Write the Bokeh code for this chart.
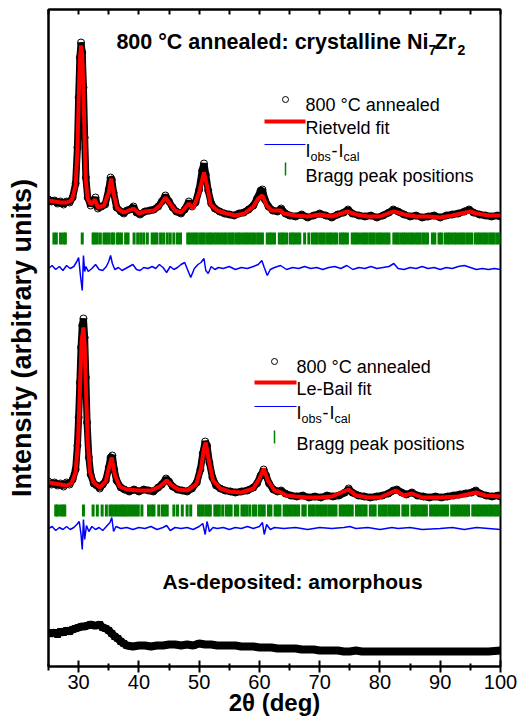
from bokeh.plotting import figure
from bokeh.models import Range1d, LinearAxis, FixedTicker
from bokeh.core.properties import value
from bokeh.embed import file_html
from bokeh.resources import INLINE

# ---------------- data (intensity in arbitrary units) ----------------
XTICKS = [30, 40, 50, 60, 70, 80, 90, 100]
XMINOR = [25, 35, 45, 55, 65, 75, 85, 95]

# Top pattern: Rietveld refinement
top_obs_x = [25.0, 25.5, 26.0, 26.5, 27.0, 27.5, 28.0, 28.5, 29.0, 29.5, 29.8, 30.0, 30.2, 30.4, 30.6, 30.8, 31.0, 31.2, 31.5,
             32.0, 32.5, 32.8, 33.2, 33.8, 34.4, 35.0, 35.3, 35.5, 35.8, 36.3, 37.0, 37.5, 38.0, 38.5, 39.1, 39.6, 40.2, 41.0,
             41.8, 42.5, 43.2, 43.8, 44.4, 45.0, 45.6, 46.2, 47.0, 47.6, 48.3, 48.8, 49.4, 50.0, 50.5, 50.8, 51.1, 51.5, 52.0,
             52.6, 53.4, 54.2, 55.0, 55.8, 56.6, 57.4, 58.2, 59.0, 59.6, 60.2, 60.5, 60.9, 61.5, 62.2, 63.0, 63.6, 64.3, 65.0,
             66.0, 67.0, 68.0, 69.0, 70.0, 71.0, 72.0, 73.0, 74.0, 74.7, 75.4, 76.5, 77.5, 78.5, 79.5, 80.5, 81.5, 82.2, 83.0,
             84.0, 85.0, 86.0, 87.0, 88.0, 89.0, 90.0, 91.0, 92.0, 93.0, 94.0, 94.8, 95.5, 96.5, 97.5, 98.5, 99.5, 100.0]
top_obs_y = [468, 466, 467, 464, 466, 463, 466, 465, 470, 484, 520, 570, 610, 625, 615, 580, 530, 490, 470,
             462, 466, 470, 459, 461, 463, 478, 490, 488, 475, 460, 456, 454, 457, 458, 461, 455, 453, 456,
             457, 458, 461, 466, 472, 466, 460, 456, 454, 458, 466, 461, 465, 478, 497, 504, 493, 477, 464,
             459, 456, 454, 453, 452, 454, 455, 458, 462, 469, 477, 478, 468, 461, 457, 456, 459, 454, 452,
             451, 453, 450, 452, 454, 452, 450, 453, 455, 458, 454, 452, 451, 452, 450, 452, 455, 458, 456,
             453, 451, 452, 450, 451, 452, 450, 452, 453, 454, 456, 458, 455, 453, 452, 451, 452, 451]

top_cal_x = [25.0, 26.0, 27.0, 28.0, 28.8, 29.0, 29.5, 29.8, 30.0, 30.2, 30.4, 30.6, 30.8, 31.0, 31.2, 31.5, 32.0, 32.7,
             33.2, 34.2, 35.0, 35.4, 35.8, 36.4, 37.5, 39.1, 40.0, 41.0, 42.5, 43.5, 44.4, 45.0, 46.0, 47.0, 48.3, 49.0,
             50.0, 50.8, 51.3, 51.9, 53.0, 54.5, 56.0, 57.5, 59.0, 59.8, 60.5, 61.2, 62.0, 63.5, 64.0, 66.0, 68.0, 70.0,
             72.0, 74.6, 76.0, 78.0, 80.0, 82.2, 83.0, 84.0, 86.0, 88.0, 90.0, 92.0, 95.0, 96.0, 98.0, 100.0]
top_cal_y = [467, 466, 465, 465, 467, 470, 482, 517, 567, 607, 622, 612, 577, 527, 487, 469, 463, 468,
             460, 462, 475, 489, 474, 459, 455, 459, 454, 456, 457, 462, 470, 465, 457, 455, 464, 459,
             475, 495, 482, 463, 457, 454, 452, 454, 461, 469, 472, 462, 457, 457, 454, 452, 451, 453,
             451, 456, 453, 451, 451, 456, 455, 453, 451, 451, 450, 452, 456, 454, 452, 452]

top_dif_x = [25.0, 25.6, 26.2, 26.8, 27.4, 28.0, 28.6, 29.2, 29.7, 30.0, 30.3, 30.6, 30.8, 31.0, 31.2, 31.6, 32.2, 32.8,
             33.4, 34.0, 34.6, 35.0, 35.3, 35.6, 36.0, 36.6, 37.2, 37.8, 38.4, 39.0, 39.6, 40.2, 40.8, 41.5, 42.2, 42.8,
             43.4, 44.0, 44.6, 45.2, 45.8, 46.4, 47.0, 47.6, 48.2, 48.6, 49.2, 49.8, 50.3, 50.8, 51.1, 51.5, 52.0, 52.6,
             53.2, 54.0, 55.0, 56.0, 57.0, 58.0, 59.0, 59.8, 60.4, 60.8, 61.3, 61.8, 62.5, 63.5, 64.5, 65.5, 66.5, 67.5,
             68.5, 69.5, 70.5, 71.5, 72.5, 73.5, 74.5, 75.5, 76.5, 77.5, 78.5, 79.5, 80.5, 81.5, 82.3, 83.0, 84.0, 85.0,
             86.0, 87.0, 88.0, 89.0, 90.0, 91.0, 92.0, 93.0, 94.0, 95.0, 96.0, 97.0, 98.0, 99.0, 100.0]
top_dif_y = [399, 402, 398, 401, 397, 402, 399, 401, 406, 410, 392, 377, 412, 396, 401, 396, 399, 403,
             398, 397, 401, 406, 412, 404, 398, 400, 397, 399, 401, 403, 398, 397, 400, 399, 401, 399,
             403, 400, 395, 401, 398, 400, 403, 405, 396, 390, 399, 403, 405, 409, 397, 394, 401, 398,
             400, 399, 401, 398, 400, 399, 401, 403, 407, 400, 392, 398, 400, 402, 398, 400, 399, 401,
             399, 400, 398, 400, 401, 399, 402, 398, 400, 399, 401, 399, 400, 401, 404, 399, 398, 400,
             399, 401, 399, 400, 398, 400, 399, 401, 402, 400, 398, 399, 398, 399, 398]

top_bragg = [25.9, 26.3, 27.0, 27.5, 27.8, 30.6, 32.4, 32.7, 33.1, 33.6, 34.2, 34.6, 35.0, 35.5, 35.8, 36.4, 36.7, 37.1,
             37.8, 38.2, 39.2, 39.8, 40.3, 40.8, 41.4, 42.2, 42.6, 43.0, 43.6, 44.1, 44.7, 45.2, 45.8, 46.4, 46.9,
             48.1, 48.45, 48.9, 49.3, 49.65, 50.1, 50.5, 50.85, 51.3, 51.7, 52.05, 52.5, 52.9, 53.25, 53.7, 54.1, 54.45,
             54.9, 55.3, 55.65, 56.1, 56.5, 56.85, 57.3, 57.7, 58.05, 58.5, 58.9, 59.25, 59.7, 60.1, 60.5, 61.3, 61.7,
             62.05, 62.5, 63.3, 63.7, 64.05, 64.5, 65.1, 65.5, 65.85, 66.3, 66.7, 67.5, 68.2, 68.8, 69.2, 69.55, 70.0,
             70.4, 70.75, 71.2, 71.6, 71.95, 72.4, 72.8, 73.4, 73.8, 74.15, 74.6, 75.4, 75.8, 76.15, 76.6, 77.1, 77.5,
             77.85, 78.3, 78.7, 79.05, 79.5, 79.9, 80.25, 80.7, 81.1, 81.5, 82.3, 82.7, 83.05, 83.5, 83.9, 84.25, 84.7,
             85.1, 85.45, 85.9, 86.3, 86.65, 87.1, 87.5, 87.9, 88.7, 89.1, 89.8, 90.2, 90.8, 91.2, 91.55, 92.0, 92.4,
             92.75, 93.2, 93.6, 93.95, 94.4, 94.8, 95.2, 95.8, 96.2, 96.55, 97.0, 97.4, 97.75, 98.2, 98.6, 98.95, 99.4,
             99.8]

# Middle pattern: Le-Bail fit
bot_obs_x = [25.0, 25.5, 26.0, 26.5, 27.0, 27.5, 28.0, 28.5, 29.0, 29.5, 29.8, 30.0, 30.2, 30.4, 30.6, 30.8, 31.0, 31.2,
             31.4, 31.7, 32.0, 32.5, 33.0, 33.5, 34.0, 34.5, 35.0, 35.3, 35.6, 35.9, 36.3, 37.0, 37.6, 38.4, 39.2, 40.0,
             40.8, 41.6, 42.4, 43.2, 43.8, 44.5, 45.0, 45.6, 46.4, 47.2, 48.0, 48.8, 49.6, 50.2, 50.6, 51.0, 51.3, 51.7,
             52.2, 52.8, 53.5, 54.3, 55.2, 56.0, 57.0, 58.0, 59.0, 59.6, 60.2, 60.7, 61.1, 61.6, 62.3, 63.0, 63.6, 64.3,
             65.2, 66.2, 67.2, 68.2, 69.2, 70.2, 71.2, 72.2, 73.2, 74.2, 74.8, 75.4, 76.4, 77.4, 78.4, 79.4, 80.4, 81.4,
             82.2, 82.8, 83.6, 84.4, 85.3, 86.2, 87.2, 88.2, 89.2, 90.2, 91.2, 92.2, 93.2, 94.2, 95.2, 95.9, 96.6, 97.6,
             98.6, 99.6, 100.0]
bot_obs_y = [186, 183, 185, 182, 184, 181, 185, 183, 188, 198, 222, 250, 285, 320, 342, 349, 330, 290,
             245, 210, 193, 184, 182, 179, 183, 187, 200, 210, 212, 198, 187, 180, 178, 176, 178, 176,
             178, 177, 176, 180, 183, 189, 186, 181, 178, 177, 176, 179, 185, 198, 214, 226, 222, 205,
             190, 182, 179, 177, 176, 175, 176, 177, 180, 184, 192, 198, 192, 184, 178, 176, 177, 174,
             172, 171, 172, 170, 171, 170, 172, 171, 172, 175, 179, 175, 172, 171, 170, 171, 172, 174,
             177, 178, 175, 173, 175, 172, 171, 170, 171, 170, 171, 172, 173, 174, 175, 177, 174, 172,
             171, 172, 171]

bot_cal_x = [25.0, 26.0, 27.0, 28.0, 28.8, 29.5, 29.9, 30.2, 30.5, 30.8, 31.0, 31.2, 31.5, 31.9, 32.5, 33.5, 34.5, 35.0,
             35.5, 36.0, 36.8, 38.0, 40.0, 42.0, 43.5, 44.6, 45.5, 46.5, 48.0, 49.5, 50.3, 50.8, 51.1, 51.6, 52.3, 53.5,
             55.0, 57.0, 59.0, 60.0, 60.7, 61.4, 62.5, 63.6, 64.5, 66.0, 68.0, 70.0, 72.0, 74.8, 76.0, 78.0, 80.0, 82.6,
             84.0, 85.3, 87.0, 90.0, 93.0, 95.9, 97.5, 100.0]
bot_cal_y = [185, 184, 183, 182, 184, 195, 227, 277, 327, 340, 322, 282, 227, 195, 185, 180, 186, 199,
             210, 193, 181, 178, 177, 177, 181, 187, 182, 178, 177, 183, 199, 219, 225, 207, 187, 179,
             176, 175, 179, 189, 199, 187, 177, 175, 172, 171, 170, 170, 171, 178, 172, 170, 170, 177,
             172, 174, 170, 170, 171, 175, 172, 171]

bot_dif_x = [25.0, 25.6, 26.2, 26.8, 27.4, 28.0, 28.6, 29.2, 29.7, 30.1, 30.4, 30.6, 30.8, 31.0, 31.3, 31.7, 32.2, 32.8,
             33.4, 34.0, 34.6, 35.2, 35.5, 35.8, 36.2, 37.0, 38.0, 39.0, 40.0, 41.0, 42.0, 43.0, 44.0, 44.6, 45.2, 46.0,
             47.0, 48.0, 49.0, 50.0, 50.6, 51.0, 51.3, 51.7, 52.3, 53.0, 54.0, 55.0, 56.0, 57.0, 58.0, 59.0, 60.0, 60.5,
             60.8, 61.2, 61.8, 62.5, 64.0, 66.0, 68.0, 70.0, 72.0, 74.0, 75.0, 76.0, 78.0, 80.0, 82.0, 83.0, 85.0, 87.0,
             90.0, 92.0, 94.0, 96.0, 98.0, 100.0]
bot_dif_y = [139, 141, 137, 140, 138, 141, 138, 140, 143, 146, 133, 118, 148, 128, 142, 136, 141, 138,
             140, 137, 141, 145, 150, 136, 141, 139, 140, 138, 140, 139, 141, 138, 140, 142, 137, 140,
             139, 140, 138, 141, 144, 133, 146, 136, 140, 139, 140, 138, 140, 139, 141, 139, 141, 145,
             133, 143, 138, 140, 139, 140, 138, 140, 139, 140, 141, 139, 140, 138, 140, 139, 140, 138,
             139, 140, 138, 140, 139, 138]

bot_bragg = [26.2, 26.5, 27.0, 27.4, 27.7, 30.8, 32.4, 33.1, 33.9, 34.6, 35.2, 35.6, 36.0, 36.4, 36.8, 37.2, 37.5, 37.9,
             38.3, 38.7, 39.1, 39.5, 39.9, 40.5, 41.6, 42.1, 42.5, 43.3, 43.9, 44.3, 44.7, 45.8, 46.4, 47.2, 48.0, 48.6,
             49.9, 50.3, 50.65, 51.1, 51.5, 51.85, 52.6, 53.0, 53.35, 53.9, 54.5, 54.9, 55.3, 56.0, 56.4, 57.1, 57.5,
             57.9, 58.4, 59.0, 59.4, 60.0, 60.4, 60.8, 61.5, 61.9, 62.6, 63.0, 63.4, 64.1, 64.5, 64.9, 65.3, 65.7, 66.1,
             66.5, 67.2, 67.6, 68.3, 68.7, 69.05, 69.5, 69.9, 70.3, 70.7, 71.05, 71.5, 71.9, 72.3, 72.7, 73.4, 73.8,
             74.2, 74.6, 74.95, 75.4, 76.1, 76.5, 76.9, 77.3, 77.7, 78.4, 78.8, 79.2, 79.9, 80.3, 80.7, 81.05, 81.5,
             81.9, 82.3, 82.7, 83.1, 83.8, 84.2, 84.6, 85.3, 85.7, 86.05, 86.5, 86.9, 87.3, 87.7, 88.4, 88.8, 89.2,
             89.55, 90.0, 90.4, 90.8, 91.2, 91.9, 92.3, 92.7, 93.05, 93.5, 93.9, 94.3, 94.7, 95.4, 95.8, 96.2, 96.55,
             97.0, 97.4, 97.8, 98.2, 98.55, 99.0, 99.4, 99.8]

# Bottom pattern: as-deposited (amorphous)
amo_x = [25.0, 25.5, 26.0, 26.5, 27.0, 27.5, 28.0, 28.5, 29.0, 29.5, 30.0, 30.5, 31.0, 31.5, 32.0, 32.5, 33.0, 33.5,
         34.0, 34.5, 35.0, 35.5, 36.0, 36.5, 37.0, 37.5, 38.0, 39.0, 40.0, 41.0, 42.0, 43.0, 44.0, 45.0, 46.0, 47.0,
         48.0, 49.0, 50.0, 51.0, 52.0, 53.0, 54.0, 55.0, 56.0, 57.0, 58.0, 59.0, 60.0, 61.0, 62.0, 63.0, 64.0, 65.0,
         66.0, 67.0, 68.0, 69.0, 70.0, 71.0, 72.0, 73.0, 74.0, 75.0, 76.0, 77.0, 78.0, 79.0, 80.0, 82.0, 84.0, 86.0,
         88.0, 90.0, 92.0, 94.0, 96.0, 98.0, 100.0]
amo_y = [35, 34, 35, 33, 36, 35, 37, 36, 38, 39, 40, 41, 41, 42, 43, 42, 42, 43,
         40, 39, 37, 34, 31, 29, 26, 24, 22, 21, 22, 22, 21, 22, 22, 23, 23, 22,
         23, 22, 24, 23, 23, 22, 22, 22, 22, 21, 21, 21, 20, 20, 20, 19, 19, 19,
         19, 18, 18, 18, 17, 17, 17, 17, 16, 16, 17, 16, 16, 16, 16, 16, 16, 16,
         16, 16, 16, 16, 16, 16, 17]

BRAGG_TOP_LEVEL = 429
BRAGG_BOT_LEVEL = 157

# ---------------- figure ----------------
FONT = "Liberation Sans"
X0, X1 = 25, 100
Y0, Y1 = 1, 658

p = figure(width=519, height=726, x_range=Range1d(X0, X1), y_range=Range1d(Y0, Y1),
           output_backend="svg", toolbar_location=None,
           x_axis_location=None, y_axis_location=None,
           min_border_left=48, min_border_right=19, min_border_top=9, min_border_bottom=60)
p.grid.visible = False
p.background_fill_color = "white"
p.border_fill_color = "white"
p.outline_line_color = "black"
p.outline_line_width = 2

xb = LinearAxis(ticker=FixedTicker(ticks=XTICKS, minor_ticks=XMINOR))
xb.axis_label = "2θ (deg)"
xb.axis_label_text_font = FONT
xb.axis_label_text_font_style = "bold"
xb.axis_label_text_font_size = "24px"
xb.axis_label_text_color = "black"
xb.axis_label_standoff = -3
xb.major_label_text_font = FONT
xb.major_label_text_font_size = "20px"
xb.major_label_text_color = "black"
xb.major_label_standoff = 2
xb.axis_line_width = 2
xb.major_tick_in = 6
xb.major_tick_out = 6
xb.minor_tick_in = 3
xb.minor_tick_out = 4
xb.major_tick_line_width = 2
xb.minor_tick_line_width = 2
p.add_layout(xb, "below")

# top axis: tick marks only (all ticks as minor ticks so that no labels are drawn)
xt = LinearAxis(ticker=FixedTicker(ticks=[], minor_ticks=XTICKS + XMINOR))
xt.major_label_standoff = 0
xt.axis_line_width = 2
xt.major_tick_in = 0
xt.major_tick_out = 0
xt.minor_tick_in = 5
xt.minor_tick_out = 0
xt.minor_tick_line_width = 2
p.add_layout(xt, "above")

yl = LinearAxis(ticker=FixedTicker(ticks=[]))
yl.axis_label = "Intensity (arbitrary units)"
yl.axis_label_text_font = FONT
yl.axis_label_text_font_style = "bold"
yl.axis_label_text_font_size = "27px"
yl.axis_label_text_color = "black"
yl.axis_label_standoff = 12
yl.major_label_standoff = 0
yl.major_tick_in = 0
yl.major_tick_out = 0
yl.minor_tick_in = 0
yl.minor_tick_out = 0
yl.axis_line_width = 2
p.add_layout(yl, "left")

# ---------------- data marks ----------------
BLACK, RED, BLUE, GREEN = "black", "#ff0000", "#0000ff", "#008000"

# top (Rietveld)
p.line(top_obs_x, top_obs_y, line_color=BLACK, line_width=7)
p.scatter(top_obs_x, top_obs_y, marker="circle", size=7, fill_color=None, line_color=BLACK, line_width=1)
p.line(top_cal_x, top_cal_y, line_color=RED, line_width=4)
p.rect(x=top_bragg, y=[BRAGG_TOP_LEVEL] * len(top_bragg), width=0.5, height=12,
       fill_color=GREEN, line_color=None)
p.line(top_dif_x, top_dif_y, line_color=BLUE, line_width=1.5)

# middle (Le-Bail)
p.line(bot_obs_x, bot_obs_y, line_color=BLACK, line_width=7)
p.scatter(bot_obs_x, bot_obs_y, marker="circle", size=7, fill_color=None, line_color=BLACK, line_width=1)
p.line(bot_cal_x, bot_cal_y, line_color=RED, line_width=4)
p.rect(x=bot_bragg, y=[BRAGG_BOT_LEVEL] * len(bot_bragg), width=0.5, height=12,
       fill_color=GREEN, line_color=None)
p.line(bot_dif_x, bot_dif_y, line_color=BLUE, line_width=1.5)

# amorphous
p.line(amo_x, amo_y, line_color=BLACK, line_width=8)
p.scatter(amo_x, amo_y, marker="square", size=6, fill_color=BLACK, line_color=BLACK)

# ---------------- annotations (page-pixel helpers) ----------------
FRAME_L, FRAME_R, FRAME_T, FRAME_B = 48, 500, 9, 666


def sx(px):
    return X0 + (px - FRAME_L) * (X1 - X0) / (FRAME_R - FRAME_L)


def sy(py):
    return Y0 + (FRAME_B - py) * (Y1 - Y0) / (FRAME_B - FRAME_T)


def txt(px, py, s, size, bold=False, align="left"):
    p.text(x=[sx(px)], y=[sy(py)], text=[s], text_font=value(FONT), text_font_size=size,
           text_font_style="bold" if bold else "normal", text_align=align,
           text_baseline="alphabetic", text_color="black")


# titles
txt(428, 41, "800 °C annealed: crystalline Ni", "21.5px", bold=True, align="right")
txt(428, 49, "7", "14px", bold=True)
txt(434, 41, "Zr", "21.5px", bold=True)
txt(457, 49, "2", "14px", bold=True)
txt(292, 581, "As-deposited: amorphous", "21px", bold=True, align="center")


def legend_block(mx, l0, l1, tx, rows, fit_label):
    r1, r2, r3, r4 = rows
    p.scatter([sx(mx)], [sy(r1 - 5)], marker="circle", size=6, fill_color=None, line_color=BLACK)
    p.line([sx(l0), sx(l1)], [sy(r2 - 6), sy(r2 - 6)], line_color=RED, line_width=4)
    p.line([sx(l0), sx(l1)], [sy(r3 - 6), sy(r3 - 6)], line_color=BLUE, line_width=1)
    p.segment(x0=[sx(mx)], y0=[sy(r4 - 13)], x1=[sx(mx)], y1=[sy(r4)], line_color=GREEN, line_width=1.5)
    txt(tx, r1, "800 °C annealed", "18px")
    txt(tx, r2, fit_label, "18px")
    txt(tx, r3, "I", "18px")
    txt(tx + 5, r3 + 6, "obs", "12.5px")
    txt(tx + 26, r3, "-", "18px")
    txt(tx + 33, r3, "I", "18px")
    txt(tx + 38, r3 + 6, "cal", "12.5px")
    txt(tx, r4, "Bragg peak positions", "18px")


legend_block(285, 264, 305, 305, (104, 127, 150, 175), "Rietveld fit")
legend_block(274, 254, 296, 296, (366, 388, 412, 443), "Le-Bail fit")

open("out.html", "w").write(file_html(p, INLINE))
